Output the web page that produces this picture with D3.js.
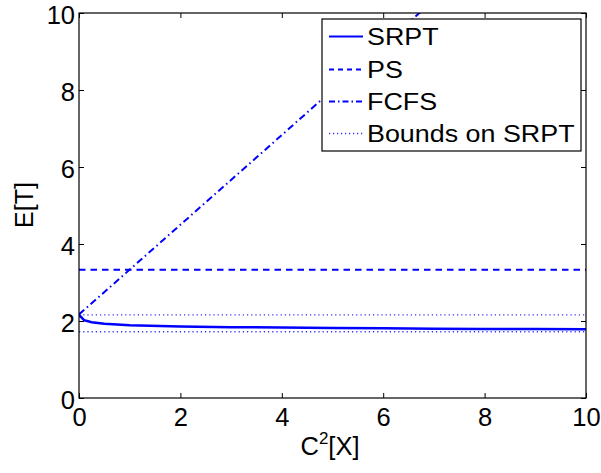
<!DOCTYPE html>
<html>
<head>
<meta charset="utf-8">
<script src="https://cdn.jsdelivr.net/npm/d3@7"></script>
<style>
  html, body { margin: 0; padding: 0; background: #fff; }
  svg { display: block; font-family: "Liberation Sans", Arial, sans-serif; }
</style>
</head>
<body>
<svg id="chart" width="601" height="473"></svg>
<script>
// Mean response time vs. job-size variability
const xTicks = [0, 2, 4, 6, 8, 10];
const yTicks = [0, 2, 4, 6, 8, 10];

const srptX = [0, 0.1, 0.25, 0.5, 1, 2, 3, 4, 5, 6, 7, 8, 9, 10];
const srptY = [2.16, 2.02, 1.97, 1.93, 1.89, 1.855, 1.84, 1.83, 1.82, 1.81, 1.80, 1.795, 1.79, 1.785];

const psX = [0, 10];
const psY = [3.33, 3.33];

const fcfsX = [0, 2, 4, 6, 8, 10];
const fcfsY = [2.17, 4.50, 6.83, 9.17, 11.50, 13.83];

const boundUpperX = [0, 10];
const boundUpperY = [2.16, 2.16];
const boundLowerX = [0, 10];
const boundLowerY = [1.72, 1.72];

const legendLabels = ["SRPT", "PS", "FCFS", "Bounds on SRPT"];

const svg = d3.select("#chart");
const m = { left: 79, top: 13, right: 586, bottom: 398 };

const x = d3.scaleLinear().domain([0, 10]).range([m.left, m.right]);
const y = d3.scaleLinear().domain([0, 10]).range([m.bottom, m.top]);

const blue = "#0000ff";
const dotBlue = "#3030ff";

svg.append("defs").append("clipPath").attr("id", "plotClip")
  .append("rect")
  .attr("x", m.left).attr("y", m.top)
  .attr("width", m.right - m.left).attr("height", m.bottom - m.top);

const plot = svg.append("g").attr("clip-path", "url(#plotClip)");

const line = d3.line().x(d => x(d[0])).y(d => y(d[1]));
const zip = (a, b) => a.map((v, i) => [v, b[i]]);

const series = [
  { pts: zip(boundUpperX, boundUpperY), dash: "1.2,3", w: 1.4, color: dotBlue },
  { pts: zip(boundLowerX, boundLowerY), dash: "1.2,3", w: 1.4, color: dotBlue },
  { pts: zip(psX, psY), dash: "6.5,5", w: 2, color: blue },
  { pts: zip(fcfsX, fcfsY), dash: "7,3.5,1.5,3.5", w: 2, color: blue },
  { pts: zip(srptX, srptY), dash: null, w: 2.5, color: blue }
];

series.forEach(s => {
  plot.append("path")
    .attr("d", line(s.pts))
    .attr("fill", "none")
    .attr("stroke", s.color)
    .attr("stroke-width", s.w)
    .attr("stroke-dasharray", s.dash);
});

// Axes: box with inward ticks on all four sides
const axisG = svg.append("g");
const tickLen = 5;
const tickFont = 25.5;

axisG.append("g")
  .attr("transform", `translate(0,${m.bottom})`)
  .call(d3.axisBottom(x).tickValues(xTicks).tickFormat(d3.format("d")).tickSizeInner(-tickLen).tickSizeOuter(0).tickPadding(10))
  .call(g => g.select(".domain").remove())
  .call(g => g.selectAll("text").attr("font-size", tickFont).attr("fill", "#000").attr("font-family", "Liberation Sans, Arial, sans-serif"));

axisG.append("g")
  .attr("transform", `translate(${m.left},0)`)
  .call(d3.axisLeft(y).tickValues(yTicks).tickFormat(d3.format("d")).tickSizeInner(-tickLen).tickSizeOuter(0).tickPadding(4))
  .call(g => g.select(".domain").remove())
  .call(g => g.selectAll("text").attr("font-size", tickFont).attr("fill", "#000")
    .attr("font-family", "Liberation Sans, Arial, sans-serif").attr("dy", "0.4em"));

axisG.append("g")
  .attr("transform", `translate(0,${m.top})`)
  .call(d3.axisTop(x).tickValues(xTicks).tickFormat("").tickSizeInner(-tickLen).tickSizeOuter(0))
  .call(g => g.select(".domain").remove());

axisG.append("g")
  .attr("transform", `translate(${m.right},0)`)
  .call(d3.axisRight(y).tickValues(yTicks).tickFormat("").tickSizeInner(-tickLen).tickSizeOuter(0))
  .call(g => g.select(".domain").remove());

axisG.selectAll(".tick line").attr("stroke", "#000").attr("stroke-width", 1);

svg.append("rect")
  .attr("x", m.left).attr("y", m.top)
  .attr("width", m.right - m.left).attr("height", m.bottom - m.top)
  .attr("fill", "none").attr("stroke", "#000").attr("stroke-width", 1.2);

// Axis titles
svg.append("text")
  .attr("transform", `translate(33,205) rotate(-90)`)
  .attr("text-anchor", "middle")
  .attr("font-size", 25)
  .text("E[T]");

const xt = svg.append("text")
  .attr("x", 330).attr("y", 455)
  .attr("text-anchor", "middle")
  .attr("font-size", 25.5);
xt.append("tspan").text("C");
xt.append("tspan").attr("font-size", 17).attr("dy", -11).text("2");
xt.append("tspan").attr("dy", 11).text("[X]");

// Legend
const legend = svg.append("g");
legend.append("rect")
  .attr("x", 322).attr("y", 19)
  .attr("width", 259).attr("height", 132)
  .attr("fill", "#fff").attr("stroke", "#000").attr("stroke-width", 1.2);

const legendStyle = [
  { dash: null, w: 2, color: blue },
  { dash: "5,4", w: 2, color: blue },
  { dash: "6,3,1.5,3", w: 2, color: blue },
  { dash: "1.2,2.8", w: 1.4, color: dotBlue }
];
const rowY = [36.5, 69.5, 101.5, 133.5];

legendLabels.forEach((lab, i) => {
  legend.append("line")
    .attr("x1", 329).attr("x2", 363)
    .attr("y1", rowY[i]).attr("y2", rowY[i])
    .attr("stroke", legendStyle[i].color)
    .attr("stroke-width", legendStyle[i].w)
    .attr("stroke-dasharray", legendStyle[i].dash);
  legend.append("text")
    .attr("transform", `translate(367,${rowY[i] + 8}) scale(1.12,1)`)
    .attr("font-size", 24)
    .text(lab);
});
</script>
</body>
</html>
